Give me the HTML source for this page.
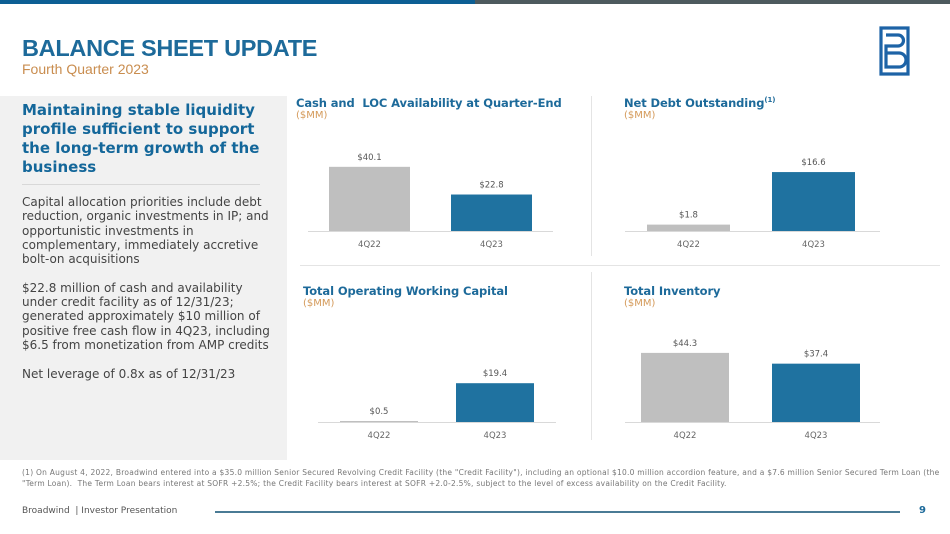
<!DOCTYPE html>
<html><head><meta charset="utf-8"><style>
body{margin:0;width:950px;height:534px;position:relative;overflow:hidden;background:#fff;font-family:"DejaVu Sans","Liberation Sans",sans-serif}
.abs{position:absolute}
.ttl{font-size:11.5px;font-weight:bold;color:#1d6a9a;white-space:nowrap;letter-spacing:-0.1px}
.sub{font-size:10px;color:#d49a5a}
</style></head><body>
<div class="abs" style="left:0;top:0;width:475px;height:4px;background:#0d5f94"></div>
<div class="abs" style="left:475px;top:0;width:475px;height:4px;background:#4d5a5e"></div>
<div class="abs" style="left:22px;top:35px;font-family:'Liberation Sans',sans-serif;font-size:23.5px;font-weight:bold;color:#1d6a9a;letter-spacing:-0.3px">BALANCE SHEET UPDATE</div>
<div class="abs" style="left:22px;top:61px;font-family:'Liberation Sans',sans-serif;font-size:14px;color:#c98d4f">Fourth Quarter 2023</div>
<svg class="abs" style="left:879px;top:26px" width="32" height="50" viewBox="0 0 32 50"><g fill="none" stroke="#1d63a6" stroke-width="3.2"><path d="M2 2H29V48H2Z"/><path d="M7 9H19a5.5 5.5 0 0 1 0 11H7V41H20a7 7 0 0 0 0-14H7"/></g></svg>
<div class="abs" style="left:0;top:96px;width:287px;height:364px;background:#f1f1f1"></div>
<div class="abs" style="left:22px;top:101px;width:250px;font-size:15px;font-weight:bold;line-height:19px;color:#14679a">Maintaining stable liquidity profile sufficient to support the long-term growth of the business</div>
<div class="abs" style="left:22px;top:184px;width:238px;height:1px;background:#d8d8d8"></div>
<div class="abs" style="left:22px;top:195px;white-space:nowrap;font-size:12px;line-height:14.3px;color:#444">Capital allocation priorities include debt<br>reduction, organic investments in IP; and<br>opportunistic investments in<br>complementary, immediately accretive<br>bolt-on acquisitions<br><br>$22.8 million of cash and availability<br>under credit facility as of 12/31/23;<br>generated approximately $10 million of<br>positive free cash flow in 4Q23, including<br>$6.5 from monetization from AMP credits<br><br>Net leverage of 0.8x as of 12/31/23</div>
<div class="abs" style="left:591px;top:96px;width:1px;height:160px;background:#e4e4e4"></div>
<div class="abs" style="left:591px;top:272px;width:1px;height:168px;background:#e4e4e4"></div>
<div class="abs" style="left:300px;top:265px;width:640px;height:1px;background:#e4e4e4"></div>

<div class="abs ttl" style="left:296px;top:96px">Cash and&nbsp; LOC Availability at Quarter-End</div>
<div class="abs sub" style="left:296px;top:110px">($MM)</div>
<div class="abs ttl" style="left:624px;top:96px">Net Debt Outstanding<sup style="font-size:7px">(1)</sup></div>
<div class="abs sub" style="left:624px;top:110px">($MM)</div>
<div class="abs ttl" style="left:303px;top:284px">Total Operating Working Capital</div>
<div class="abs sub" style="left:303px;top:298px">($MM)</div>
<div class="abs ttl" style="left:624px;top:284px">Total Inventory</div>
<div class="abs sub" style="left:624px;top:298px">($MM)</div>

<svg id="charts" class="abs" style="left:0;top:0" width="950" height="534"></svg>

<div class="abs" style="left:22px;top:467px;white-space:nowrap;font-size:7.5px;line-height:11px;color:#777;letter-spacing:0.25px">(1) On August 4, 2022, Broadwind entered into a $35.0 million Senior Secured Revolving Credit Facility (the "Credit Facility"), including an optional $10.0 million accordion feature, and a $7.6 million Senior Secured Term Loan (the<br>"Term Loan). &nbsp;The Term Loan bears interest at SOFR +2.5%; the Credit Facility bears interest at SOFR +2.0-2.5%, subject to the level of excess availability on the Credit Facility.</div>
<div class="abs" style="left:22px;top:506px;font-size:9px;color:#555">Broadwind &nbsp;| Investor Presentation</div>
<div class="abs" style="left:215px;top:511px;width:685px;height:2px;background:#4a7b95"></div>
<div class="abs" style="left:919px;top:505px;font-size:10px;font-weight:bold;color:#1d6a9a">9</div>

<script>
const categories = ["4Q22","4Q23"];
const cashValues = [40.1, 22.8];
const debtValues = [1.8, 16.6];
const wcValues = [0.5, 19.4];
const invValues = [44.3, 37.4];
const valueLabels1 = ["$40.1","$22.8"];
const valueLabels2 = ["$1.8","$16.6"];
const valueLabels3 = ["$0.5","$19.4"];
const valueLabels4 = ["$44.3","$37.4"];
const NS="http://www.w3.org/2000/svg";
const svg=document.getElementById('charts');
const colors=["#bfbfbf","#1f72a0"];
function mk(t,a){const e=document.createElementNS(NS,t);for(const k in a)e.setAttribute(k,a[k]);svg.appendChild(e);return e;}
function chart(id,vals,labels,cfg){
  const y=v=>cfg.base-v*cfg.scale;
  const ax=mk('line',{x1:cfg.x0,x2:cfg.x1,y1:cfg.base+0.5,y2:cfg.base+0.5,stroke:'#d9d9d9','stroke-width':1});
  
  
  vals.forEach((v,i)=>{
    const bx=cfg.bars[i];
    const r=mk('rect',{x:bx,y:y(v),width:cfg.w,height:cfg.base-y(v),fill:colors[i]});
    
    
    const t=mk('text',{x:bx+cfg.w/2,y:y(v)-7,'text-anchor':'middle','font-size':8.5,fill:'#555','font-family':'DejaVu Sans, sans-serif'});
    t.textContent=labels[i];
    
    
    const c=mk('text',{x:bx+cfg.w/2,y:cfg.base+16,'text-anchor':'middle','font-size':8.5,fill:'#666','font-family':'DejaVu Sans, sans-serif'});
    c.textContent=categories[i];
    
    
  });
}
chart('cash-chart',cashValues,valueLabels1,{base:231,scale:1.6,bars:[329,451],w:81,x0:308,x1:553});
chart('debt-chart',debtValues,valueLabels2,{base:231,scale:3.55,bars:[647,772],w:83,x0:625,x1:880});
chart('wc-chart',wcValues,valueLabels3,{base:422,scale:2.0,bars:[340,456],w:78,x0:318,x1:556});
chart('inventory-chart',invValues,valueLabels4,{base:422,scale:1.56,bars:[641,772],w:88,x0:625,x1:880});
</script>
</body></html>
